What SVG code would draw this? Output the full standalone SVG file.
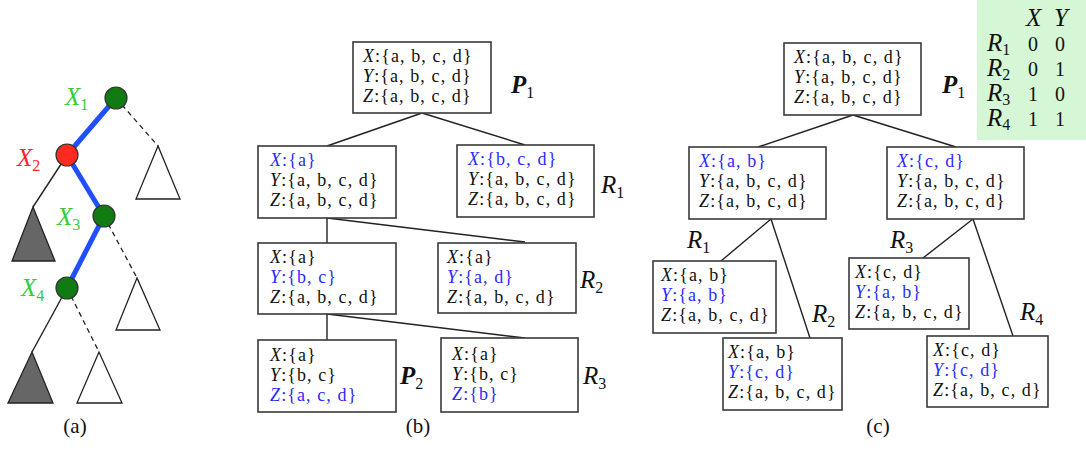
<svg xmlns="http://www.w3.org/2000/svg" width="1086" height="450" viewBox="0 0 1086 450">
<style>
.box{fill:#fff;stroke:#3a3a3a;stroke-width:1.6}
.t{font-family:"Liberation Serif","Times New Roman",serif;font-size:18px;letter-spacing:1.1px;fill:#111}
.n{font-family:"Liberation Serif","Times New Roman",serif;font-size:20px;fill:#111}
.b{fill:#2b2bff}
.i{font-style:italic}
.lbl{font-family:"Liberation Serif","Times New Roman",serif;font-size:25px;font-style:italic;fill:#111}
.sub{font-size:16px;font-style:normal}
.cap{font-family:"Liberation Serif","Times New Roman",serif;font-size:21px;fill:#111;text-anchor:middle}
.conn{stroke:#222;stroke-width:1.4;fill:none}
.dash{stroke:#222;stroke-width:1.3;stroke-dasharray:5,4;fill:none}
.blue{stroke:#1f4fff;stroke-width:5;fill:none}
.tri{fill:#fff;stroke:#222;stroke-width:1.3}
.dtri{fill:#666;stroke:#222;stroke-width:1.3}
.gn{fill:#127a12;stroke:#333;stroke-width:1.2}
.rn{fill:#ff2a1f;stroke:#333;stroke-width:1.2}
.xl{font-family:"Liberation Serif","Times New Roman",serif;font-size:25px;font-style:italic}
</style>

<!-- panel (a) -->
<g id="panel-a-connectors">
<line class="blue" x1="116" y1="98" x2="67" y2="155"/>
<line class="blue" x1="67" y1="155" x2="104" y2="216"/>
<line class="blue" x1="104" y1="216" x2="67" y2="288"/>
<line class="dash" x1="116" y1="98" x2="158" y2="146"/>
<line class="conn" x1="67" y1="155" x2="33" y2="207"/>
<line class="dash" x1="104" y1="216" x2="137" y2="278"/>
<line class="conn" x1="67" y1="288" x2="32" y2="352"/>
<line class="dash" x1="67" y1="288" x2="99" y2="352"/>
</g>
<g id="a-tri1"><polygon class="tri" points="158,146 136,199 180,199"/></g>
<g id="a-tri2"><polygon class="dtri" points="33,207 12,261 55,261"/></g>
<g id="a-tri3"><polygon class="tri" points="137,278 116,330 160,330"/></g>
<g id="a-tri4"><polygon class="dtri" points="32,352 8,403 53,403"/></g>
<g id="a-tri5"><polygon class="tri" points="99,352 77,403 122,403"/></g>
<g id="a-x1"><circle class="gn" cx="116" cy="98" r="11"/><text class="xl" x="65" y="105" fill="#33cc33">X<tspan class="sub" dy="5">1</tspan></text></g>
<g id="a-x2"><circle class="rn" cx="67" cy="155" r="11"/><text class="xl" x="17" y="166" fill="#ff2222">X<tspan class="sub" dy="5">2</tspan></text></g>
<g id="a-x3"><circle class="gn" cx="104" cy="216" r="11"/><text class="xl" x="57" y="225" fill="#33cc33">X<tspan class="sub" dy="5">3</tspan></text></g>
<g id="a-x4"><circle class="gn" cx="67" cy="288" r="11"/><text class="xl" x="21" y="296" fill="#33cc33">X<tspan class="sub" dy="5">4</tspan></text></g>
<text class="cap" x="75" y="433">(a)</text>

<!-- panel (b) -->
<g id="connectors-b">
<line class="conn" x1="422" y1="113" x2="327" y2="146"/>
<line class="conn" x1="422" y1="113" x2="525" y2="145"/>
<line class="conn" x1="327" y1="218" x2="327" y2="243"/>
<line class="conn" x1="327" y1="218" x2="525" y2="242"/>
<line class="conn" x1="327" y1="314" x2="327" y2="340"/>
<line class="conn" x1="327" y1="314" x2="525" y2="338"/>
</g>
<g id="b-p1">
<rect class="box" x="353" y="42" width="138" height="71"/>
<text class="t" x="363" y="62"><tspan class="i">X</tspan>:{a, b, c, d}</text>
<text class="t" x="363" y="82"><tspan class="i">Y</tspan>:{a, b, c, d}</text>
<text class="t" x="363" y="102"><tspan class="i">Z</tspan>:{a, b, c, d}</text>
<text class="lbl" x="511" y="93" font-weight="bold">P<tspan class="sub" dy="5" font-weight="normal">1</tspan></text>
</g>
<g id="b-l2a">
<rect class="box" x="258" y="146" width="138" height="72"/>
<text class="t b" x="270" y="166"><tspan class="i">X</tspan>:{a}</text>
<text class="t" x="270" y="186"><tspan class="i">Y</tspan>:{a, b, c, d}</text>
<text class="t" x="270" y="206"><tspan class="i">Z</tspan>:{a, b, c, d}</text>
</g>
<g id="b-l2b">
<rect class="box" x="457" y="145" width="137" height="72"/>
<text class="t b" x="468" y="165"><tspan class="i">X</tspan>:{b, c, d}</text>
<text class="t" x="468" y="185"><tspan class="i">Y</tspan>:{a, b, c, d}</text>
<text class="t" x="468" y="205"><tspan class="i">Z</tspan>:{a, b, c, d}</text>
<text class="lbl" x="601" y="193">R<tspan class="sub" dy="5">1</tspan></text>
</g>
<g id="b-l3a">
<rect class="box" x="258" y="243" width="138" height="71"/>
<text class="t" x="270" y="263"><tspan class="i">X</tspan>:{a}</text>
<text class="t b" x="270" y="283"><tspan class="i">Y</tspan>:{b, c}</text>
<text class="t" x="270" y="303"><tspan class="i">Z</tspan>:{a, b, c, d}</text>
</g>
<g id="b-l3b">
<rect class="box" x="438" y="243" width="138" height="70"/>
<text class="t" x="447" y="263"><tspan class="i">X</tspan>:{a}</text>
<text class="t b" x="447" y="283"><tspan class="i">Y</tspan>:{a, d}</text>
<text class="t" x="447" y="303"><tspan class="i">Z</tspan>:{a, b, c, d}</text>
<text class="lbl" x="580" y="288">R<tspan class="sub" dy="5">2</tspan></text>
</g>
<g id="b-l4a">
<rect class="box" x="258" y="340" width="138" height="72"/>
<text class="t" x="270" y="361"><tspan class="i">X</tspan>:{a}</text>
<text class="t" x="270" y="381"><tspan class="i">Y</tspan>:{b, c}</text>
<text class="t b" x="270" y="401"><tspan class="i">Z</tspan>:{a, c, d}</text>
<text class="lbl" x="400" y="384" font-weight="bold">P<tspan class="sub" dy="5" font-weight="normal">2</tspan></text>
</g>
<g id="b-l4b">
<rect class="box" x="441" y="338" width="137" height="74"/>
<text class="t" x="452" y="360"><tspan class="i">X</tspan>:{a}</text>
<text class="t" x="452" y="380"><tspan class="i">Y</tspan>:{b, c}</text>
<text class="t b" x="452" y="400"><tspan class="i">Z</tspan>:{b}</text>
<text class="lbl" x="583" y="384">R<tspan class="sub" dy="5">3</tspan></text>
</g>
<text class="cap" x="418" y="433">(b)</text>

<!-- panel (c) -->
<g id="c-table">
<rect x="977" y="0" width="109" height="140" fill="#d6f7d6"/>
<text class="lbl" x="1026" y="26" font-size="21">X</text>
<text class="lbl" x="1054" y="26" font-size="21">Y</text>
<text class="lbl" x="987" y="51" font-size="21">R<tspan class="sub" dy="4" font-size="13">1</tspan></text>
<text class="lbl" x="987" y="76" font-size="21">R<tspan class="sub" dy="4" font-size="13">2</tspan></text>
<text class="lbl" x="987" y="101" font-size="21">R<tspan class="sub" dy="4" font-size="13">3</tspan></text>
<text class="lbl" x="987" y="126" font-size="21">R<tspan class="sub" dy="4" font-size="13">4</tspan></text>
<text class="n" x="1028" y="51">0</text><text class="n" x="1055" y="51">0</text>
<text class="n" x="1028" y="76">0</text><text class="n" x="1055" y="76">1</text>
<text class="n" x="1028" y="101">1</text><text class="n" x="1055" y="101">0</text>
<text class="n" x="1028" y="126">1</text><text class="n" x="1055" y="126">1</text>
</g>
<g id="connectors-c">
<line class="conn" x1="853" y1="115" x2="758" y2="147"/>
<line class="conn" x1="853" y1="115" x2="956" y2="147"/>
<line class="conn" x1="771" y1="219" x2="721" y2="261"/>
<line class="conn" x1="771" y1="219" x2="810" y2="338"/>
<line class="conn" x1="973" y1="219" x2="923" y2="258"/>
<line class="conn" x1="973" y1="219" x2="1013" y2="336"/>
</g>
<g id="c-p1">
<rect class="box" x="784" y="43" width="137" height="72"/>
<text class="t" x="794" y="63"><tspan class="i">X</tspan>:{a, b, c, d}</text>
<text class="t" x="794" y="83"><tspan class="i">Y</tspan>:{a, b, c, d}</text>
<text class="t" x="794" y="103"><tspan class="i">Z</tspan>:{a, b, c, d}</text>
<text class="lbl" x="942" y="93" font-weight="bold">P<tspan class="sub" dy="5" font-weight="normal">1</tspan></text>
</g>
<g id="c-l2a">
<rect class="box" x="689" y="147" width="137" height="72"/>
<text class="t b" x="699" y="167"><tspan class="i">X</tspan>:{a, b}</text>
<text class="t" x="699" y="187"><tspan class="i">Y</tspan>:{a, b, c, d}</text>
<text class="t" x="699" y="207"><tspan class="i">Z</tspan>:{a, b, c, d}</text>
</g>
<g id="c-l2b">
<rect class="box" x="887" y="147" width="137" height="72"/>
<text class="t b" x="897" y="167"><tspan class="i">X</tspan>:{c, d}</text>
<text class="t" x="897" y="187"><tspan class="i">Y</tspan>:{a, b, c, d}</text>
<text class="t" x="897" y="207"><tspan class="i">Z</tspan>:{a, b, c, d}</text>
</g>
<g id="c-r1">
<rect class="box" x="653" y="261" width="123" height="72"/>
<text class="t" x="661" y="281"><tspan class="i">X</tspan>:{a, b}</text>
<text class="t b" x="661" y="301"><tspan class="i">Y</tspan>:{a, b}</text>
<text class="t" x="661" y="321"><tspan class="i">Z</tspan>:{a, b, c, d}</text>
<text class="lbl" x="687" y="248">R<tspan class="sub" dy="5">1</tspan></text>
</g>
<g id="c-r2">
<rect class="box" x="723" y="338" width="119" height="72"/>
<text class="t" x="728" y="358"><tspan class="i">X</tspan>:{a, b}</text>
<text class="t b" x="728" y="378"><tspan class="i">Y</tspan>:{c, d}</text>
<text class="t" x="728" y="398"><tspan class="i">Z</tspan>:{a, b, c, d}</text>
<text class="lbl" x="812" y="322">R<tspan class="sub" dy="5">2</tspan></text>
</g>
<g id="c-r3">
<rect class="box" x="849" y="258" width="120" height="71"/>
<text class="t" x="855" y="278"><tspan class="i">X</tspan>:{c, d}</text>
<text class="t b" x="855" y="298"><tspan class="i">Y</tspan>:{a, b}</text>
<text class="t" x="855" y="318"><tspan class="i">Z</tspan>:{a, b, c, d}</text>
<text class="lbl" x="890" y="248">R<tspan class="sub" dy="5">3</tspan></text>
</g>
<g id="c-r4">
<rect class="box" x="927" y="336" width="121" height="71"/>
<text class="t" x="933" y="356"><tspan class="i">X</tspan>:{c, d}</text>
<text class="t b" x="933" y="376"><tspan class="i">Y</tspan>:{c, d}</text>
<text class="t" x="933" y="396"><tspan class="i">Z</tspan>:{a, b, c, d}</text>
<text class="lbl" x="1020" y="320">R<tspan class="sub" dy="5">4</tspan></text>
</g>
<text class="cap" x="878" y="433">(c)</text>
</svg>
